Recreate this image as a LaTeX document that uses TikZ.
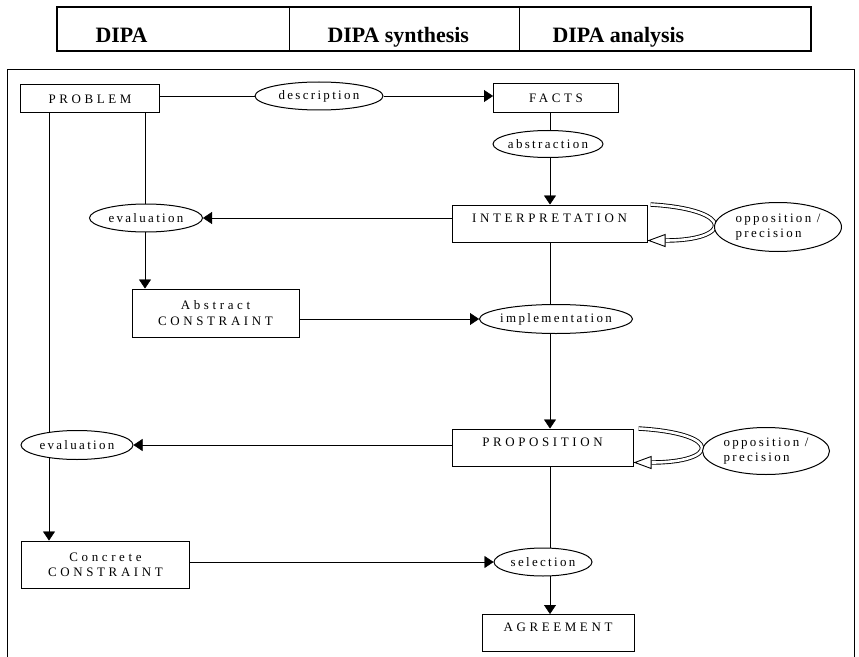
\documentclass[tikz,border=0pt]{standalone}
\usepackage{fontspec}
\setmainfont{Liberation Serif}
\newfontfamily\boxfont[LetterSpace=28]{Liberation Serif}
\newfontfamily\ovalfont[LetterSpace=18]{Liberation Serif}
\usetikzlibrary{arrows.meta,positioning,calc,shapes.geometric,backgrounds}

\begin{document}
\begin{tikzpicture}[
    x=1bp, y=-1bp,
    line width=1bp,
    arr/.style={-{Triangle[length=9bp, width=12bp]}},
    loopback/.style={double, double distance=2.6bp, line width=0.9bp,
      -{Triangle[open, length=18bp, width=13bp]}},
    box/.style={draw, fill=white, rectangle, inner sep=0pt,
      font=\boxfont\fontsize{13}{15.5}\selectfont},
    tallbox/.style={box, text height=17bp, text depth=20bp},
    oval/.style={draw, fill=white, ellipse, inner xsep=-8bp, inner ysep=0pt,
      font=\ovalfont\fontsize{13}{15.5}\selectfont, align=center},
    head/.style={anchor=base west, inner sep=0pt,
      font=\bfseries\fontsize{22}{26}\selectfont},
  ]
  \useasboundingbox (0,0) rectangle (859,657);

  % Header table
  \draw[line width=1.2bp] (57,7) rectangle (811,51);
  \draw (289,7) -- (289,51) (519,7) -- (519,51);
  \node[head] (hdipa) at (95,43) {DIPA};
  \node[head] (hsynth) at (327,43) {DIPA synthesis};
  \node[head] (hanal) at (552,43) {DIPA analysis};

  % Frame
  \draw (7,657) |- (854,70) -- (854,657);

  % Columns of the connectors
  \coordinate (spine) at (550,0);
  \coordinate (colA) at (49,0);
  \coordinate (colB) at (145,0);

  % Boxes
  \node[box, minimum width=139bp, minimum height=28bp] (prob) at (90,99) {PROBLEM};
  \node[box, minimum width=125bp, minimum height=29bp] (facts) at (556,98.5) {FACTS};
  \node[tallbox, minimum width=195bp] (interp) at (549.5,223.5) {INTERPRETATION};
  \node[box, align=center, minimum width=167bp, minimum height=48bp]
    (absc) at (215.5,313) {Abstract\\CONSTRAINT};
  \node[tallbox, minimum width=181bp] (prop) at (542.5,447.5) {PROPOSITION};
  \node[box, align=center, minimum width=167bp, minimum height=47bp]
    (conc) at (105.5,564.5) {Concrete\\CONSTRAINT};
  \node[tallbox, minimum width=152bp] (agree) at (558,633) {AGREEMENT};

  % Ellipses
  \node[oval, minimum width=128bp, minimum height=28bp] (descr) at (319,96) {description};
  \node[oval, minimum width=110bp, minimum height=27bp] (abstr) at (548,144) {abstraction};
  \node[oval, minimum width=113bp, minimum height=28bp] (evalA) at (146,218) {evaluation};
  \node[oval, minimum width=153bp, minimum height=29bp] (impl) at (556,319) {implementation};
  \node[oval, minimum width=112bp, minimum height=29bp] (evalB) at (77,445) {evaluation};
  \node[oval, minimum width=98bp, minimum height=28bp] (sel) at (543,562) {selection};
  \node[oval, align=left, minimum width=127bp, minimum height=49bp]
    (oppA) at (778,227) {opposition /\\precision};
  \node[oval, align=left, minimum width=127bp, minimum height=47bp]
    (oppB) at (766,451) {opposition /\\precision};

  % Connectors
  \begin{scope}[on background layer]
    \draw (prob.east |- descr) -- (descr);
    \draw[arr] (descr.east) -- (descr.east -| facts.west);
    \draw (facts.south -| spine) -- (abstr -| spine);
    \draw[arr] (abstr -| spine) -- (interp.north -| spine);
    \draw (interp.south -| spine) -- (impl -| spine);
    \draw[arr] (impl -| spine) -- (prop.north -| spine);
    \draw (prop.south -| spine) -- (sel -| spine);
    \draw[arr] (sel -| spine) -- (agree.north -| spine);

    \draw[arr] (evalA.east -| interp.west) -- (evalA.east);
    \draw (prob.south -| colB) -- (evalA -| colB);
    \draw[arr] (evalA -| colB) -- (absc.north -| colB);
    \draw[arr] (absc.east |- impl) -- (impl.west);

    \draw[arr] (evalB.east -| prop.west) -- (evalB.east);
    \draw (prob.south -| colA) -- (evalB -| colA);
    \draw[arr] (evalB -| colA) -- (conc.north -| colA);
    \draw[arr] (conc.east |- sel) -- (sel.west);

    % Feedback loops
    \draw[loopback] ([xshift=3bp]interp.north east)
      .. controls +(85,5) and +(85,0) .. ([yshift=2bp]interp.south east);
    \draw[loopback] ([xshift=5bp]prop.north east)
      .. controls +(85,5) and +(85,0) .. ([yshift=4bp]prop.south east);
  \end{scope}

\end{tikzpicture}
\end{document}
